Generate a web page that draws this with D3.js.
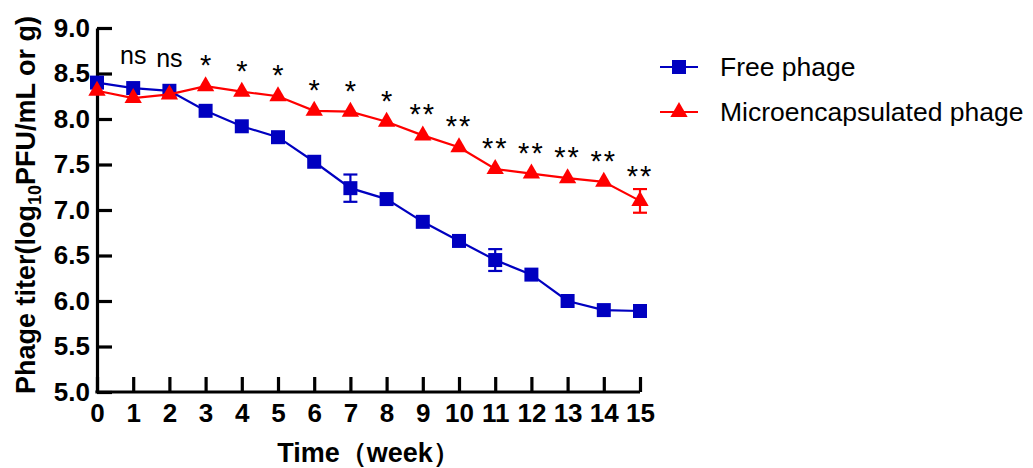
<!DOCTYPE html>
<html>
<head>
<meta charset="utf-8">
<script src="https://cdn.jsdelivr.net/npm/d3@7"></script>
<style>
  body { margin: 0; background: #fff; }
  text { font-family: "Liberation Sans", Arial, sans-serif; }
</style>
</head>
<body>
<div id="chart"></div>
<script>
// data
var weeks = [0, 1, 2, 3, 4, 5, 6, 7, 8, 9, 10, 11, 12, 13, 14, 15];
var freeMean = [8.40, 8.34, 8.31, 8.09, 7.92, 7.80, 7.53, 7.24, 7.12, 6.87, 6.66, 6.45, 6.29, 6.00, 5.90, 5.89];
var freeErr  = [0, 0, 0, 0, 0, 0, 0, 0.15, 0, 0, 0, 0.12, 0, 0, 0, 0];
var microMean = [8.31, 8.23, 8.27, 8.36, 8.30, 8.25, 8.09, 8.08, 7.97, 7.82, 7.69, 7.45, 7.40, 7.35, 7.31, 7.10];
var microErr  = [0, 0, 0, 0, 0, 0, 0, 0, 0, 0, 0, 0, 0, 0, 0, 0.13];
var sigLabels = ["", "ns", "ns", "*", "*", "*", "*", "*", "*", "**", "**", "**", "**", "**", "**", "**"];
var yTicks = [5.0, 5.5, 6.0, 6.5, 7.0, 7.5, 8.0, 8.5, 9.0];
var seriesNames = ["Free phage", "Microencapsulated phage"];

var width = 1033, height = 468;
var margin = {left: 97, right: 393, top: 28, bottom: 76};

var blue = "#0000c0", red = "#ff0000";

var svg = d3.select("#chart").append("svg")
    .attr("width", width)
    .attr("height", height);

var x = d3.scaleLinear().domain([0, 15]).range([margin.left, width - margin.right]);
var y = d3.scaleLinear().domain([5, 9]).range([height - margin.bottom, margin.top]);

/* axes */
var xAxis = d3.axisBottom(x).tickValues(weeks).tickFormat(d3.format("d"))
    .tickSizeInner(-15).tickSizeOuter(0).tickPadding(12);
var yAxis = d3.axisLeft(y).tickValues(yTicks).tickFormat(d3.format(".1f"))
    .tickSizeInner(-15).tickSizeOuter(0).tickPadding(7);

var gx = svg.append("g")
    .attr("transform", "translate(0," + y(5) + ")")
    .call(xAxis);
var gy = svg.append("g")
    .attr("transform", "translate(" + x(0) + ",0)")
    .call(yAxis);

[gx, gy].forEach(function(g) {
  g.select(".domain").attr("stroke", "#000").attr("stroke-width", 3.2);
  g.selectAll(".tick line").attr("stroke", "#000").attr("stroke-width", 3.2);
  g.selectAll(".tick text").attr("fill", "#000")
    .style("font-size", "26px").style("font-weight", "bold")
    .style("font-family", "'Liberation Sans', Arial, sans-serif");
});
// extend the domain lines to cover the corner
gx.select(".domain").attr("d", "M" + (x(0) - 1.6) + ",0H" + x(15));

/* axis titles */
svg.append("text")
    .attr("x", (x(0) + x(15)) / 2)
    .attr("y", 462)
    .attr("text-anchor", "middle")
    .style("font-size", "27px").style("font-weight", "bold")
    .text("Time（week）");

var yt = svg.append("text")
    .attr("transform", "translate(35," + 205 + ") rotate(-90)")
    .attr("text-anchor", "middle")
    .style("font-size", "27px").style("font-weight", "bold");
yt.append("tspan").text("Phage titer(log");
yt.append("tspan").attr("dy", 6).style("font-size", "18px").text("10");
yt.append("tspan").attr("dy", -6).text("PFU/mL or g)");

/* series */
var series = [
  {name: seriesNames[0], mean: freeMean, err: freeErr, color: blue, shape: d3.symbolSquare, size: 196},
  {name: seriesNames[1], mean: microMean, err: microErr, color: red, shape: d3.symbolTriangle, size: 130}
];

var line = d3.line()
    .x(function(d) { return x(d.w); })
    .y(function(d) { return y(d.v); });

series.forEach(function(s) {
  var pts = weeks.map(function(w, i) { return {w: w, v: s.mean[i], e: s.err[i]}; });
  var g = svg.append("g");

  g.append("path")
      .datum(pts)
      .attr("d", line)
      .attr("fill", "none")
      .attr("stroke", s.color)
      .attr("stroke-width", 2.2);

  var eb = g.selectAll(".err")
      .data(pts.filter(function(d) { return d.e > 0; }))
      .enter().append("g")
      .attr("stroke", s.color)
      .attr("stroke-width", 2.2);
  eb.append("line")
      .attr("x1", function(d) { return x(d.w); })
      .attr("x2", function(d) { return x(d.w); })
      .attr("y1", function(d) { return y(d.v - d.e); })
      .attr("y2", function(d) { return y(d.v + d.e); });
  [1, -1].forEach(function(sign) {
    eb.append("line")
        .attr("x1", function(d) { return x(d.w) - 7; })
        .attr("x2", function(d) { return x(d.w) + 7; })
        .attr("y1", function(d) { return y(d.v + sign * d.e); })
        .attr("y2", function(d) { return y(d.v + sign * d.e); });
  });

  g.selectAll(".pt")
      .data(pts)
      .enter().append("path")
      .attr("d", d3.symbol().type(s.shape).size(s.size))
      .attr("transform", function(d) { return "translate(" + x(d.w) + "," + y(d.v) + ")"; })
      .attr("fill", s.color);
});

/* significance marks above the highest mark at each week */
svg.selectAll(".sig")
    .data(weeks)
    .enter().append("text")
    .attr("x", function(d) { return x(d); })
    .attr("y", function(d, i) {
      var top = Math.min(y(freeMean[i] + freeErr[i]) - (freeErr[i] > 0 ? 0 : 7),
                         y(microMean[i] + microErr[i]) - (microErr[i] > 0 ? 0 : 8));
      return sigLabels[i] === "ns" ? top - 17 : top - 3;
    })
    .attr("text-anchor", "middle")
    .attr("letter-spacing", function(d, i) { return sigLabels[i] === "**" ? "2px" : null; })
    .style("font-size", function(d, i) { return sigLabels[i] === "ns" ? "25px" : "29px"; })
    .attr("fill", "#000")
    .text(function(d, i) { return sigLabels[i]; });

/* legend */
var legend = svg.append("g");
series.forEach(function(s, i) {
  var ly = 67 + i * 45;
  legend.append("line")
      .attr("x1", 660).attr("x2", 698)
      .attr("y1", ly).attr("y2", ly)
      .attr("stroke", s.color).attr("stroke-width", 2.2);
  legend.append("path")
      .attr("d", d3.symbol().type(s.shape).size(s.size))
      .attr("transform", "translate(679," + ly + ")")
      .attr("fill", s.color);
  legend.append("text")
      .attr("x", 720).attr("y", ly + 9)
      .style("font-size", "26.5px")
      .attr("fill", "#000")
      .text(s.name);
});
</script>
</body>
</html>
